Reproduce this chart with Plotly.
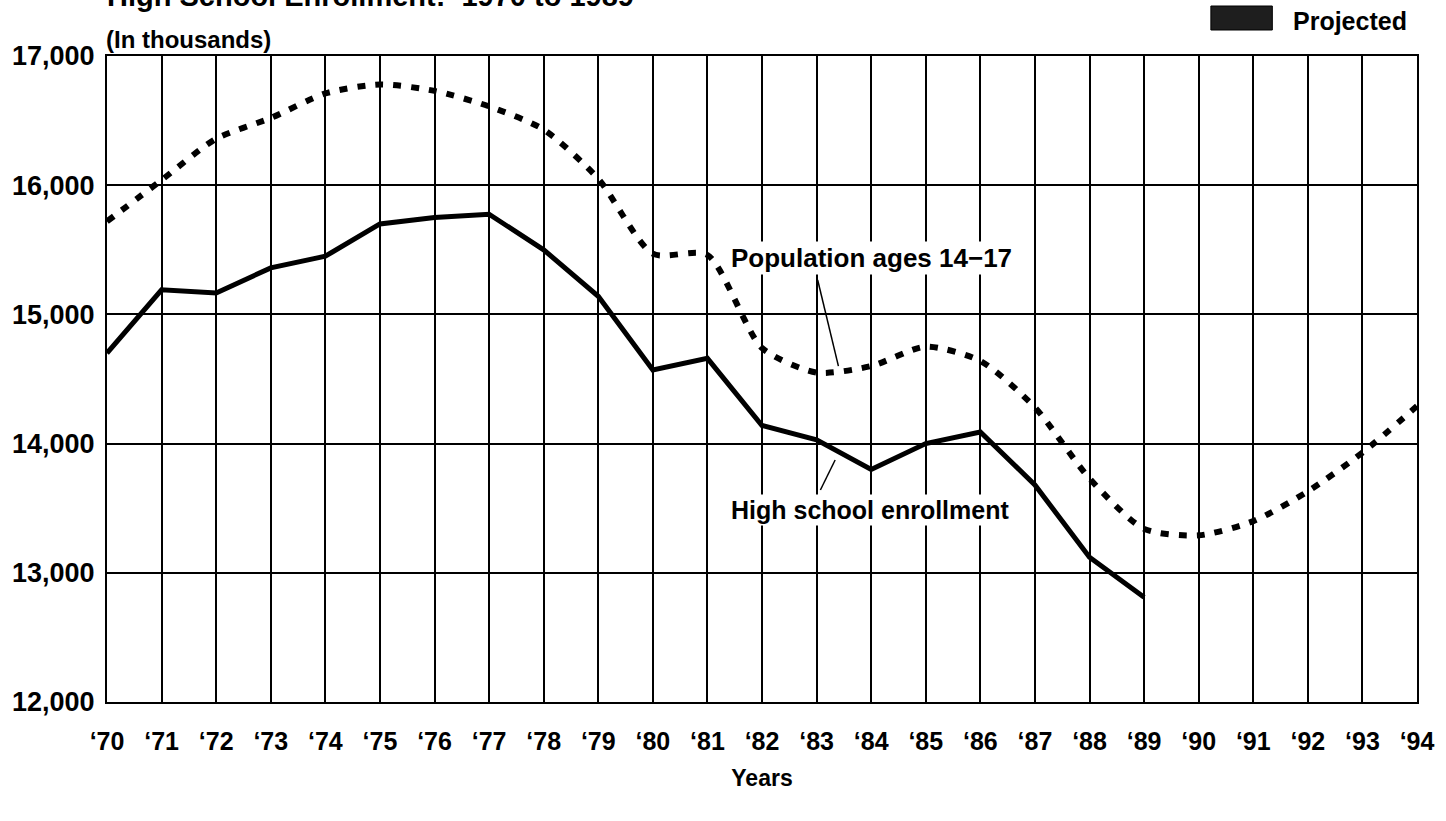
import plotly.graph_objects as go

years = list(range(1970, 1995))
tick_labels = ["\u2018" + str(y)[2:] for y in years]

enroll_years = list(range(1970, 1990))
enrollment = [14700, 15190, 15165, 15360, 15450, 15700, 15750, 15775, 15500, 15140,
              14570, 14660, 14140, 14030, 13800, 14000, 14090, 13680, 13120, 12810]

population = [15720, 16040, 16360, 16520, 16710, 16780, 16730, 16610, 16430, 16050,
              15470, 15460, 14740, 14550, 14600, 14750, 14640, 14280, 13730, 13340,
              13290, 13400, 13630, 13930, 14290]

FONT = "Arial, 'Liberation Sans', Helvetica, sans-serif"

fig = go.Figure()
fig.add_trace(go.Scatter(
    x=years, y=population, mode="lines",
    line=dict(color="black", width=6, dash="8px,10px", shape="spline", smoothing=0.7),
    hoverinfo="skip", showlegend=False))
fig.add_trace(go.Scatter(
    x=enroll_years, y=enrollment, mode="lines",
    line=dict(color="black", width=5),
    hoverinfo="skip", showlegend=False))

fig.update_layout(
    width=1446, height=821,
    margin=dict(l=95, r=29, t=56, b=119),
    paper_bgcolor="white", plot_bgcolor="white",
    font=dict(family=FONT, color="black", size=24, weight="bold"),
    xaxis=dict(range=[1970, 1994], tickvals=years, ticktext=tick_labels,
               showgrid=True, gridcolor="black", gridwidth=2,
               showline=True, linecolor="black", linewidth=2, mirror=True,
               ticks="", ticklabelstandoff=16, zeroline=False,
               tickfont=dict(size=25, family=FONT, weight="bold"),
               title=dict(text="Years", standoff=16,
                          font=dict(size=23, family=FONT, weight="bold"))),
    yaxis=dict(range=[12000, 17000], dtick=1000, tickformat=",",
               showgrid=True, gridcolor="black", gridwidth=2,
               showline=True, linecolor="black", linewidth=2, mirror=True,
               ticks="", ticklabelstandoff=5, zeroline=False,
               tickfont=dict(size=27, family=FONT, weight="bold")),
)

def px_x(px):
    return (px - 95) / 1322

def px_y(py):
    return (702 - py) / 646

# Title (cropped at the top of the page) and subtitle
fig.add_annotation(text="High School Enrollment:  1970 to 1989", xref="paper", yref="paper",
                   x=px_x(93), y=px_y(14), xanchor="left", yanchor="bottom", showarrow=False,
                   font=dict(size=29, family=FONT, weight="bold"))
fig.add_annotation(text="(In thousands)", xref="paper", yref="paper",
                   x=px_x(92), y=px_y(40), xanchor="left", yanchor="middle", showarrow=False,
                   font=dict(size=24, family=FONT, weight="bold"))

# Legend: Projected
fig.add_shape(type="rect", xref="paper", yref="paper",
              x0=px_x(1209), x1=px_x(1271), y0=px_y(30), y1=px_y(6),
              fillcolor="#1e1e1e", line=dict(color="black", width=1))
fig.add_annotation(text="Projected", xref="paper", yref="paper",
                   x=px_x(1290), y=px_y(21), xanchor="left", yanchor="middle", showarrow=False,
                   font=dict(size=25, family=FONT, weight="bold"))

# Series labels with leader lines
fig.add_annotation(text="Population ages 14\u221217", x=1984.0, y=15440,
                   showarrow=False, bgcolor="white",
                   font=dict(size=26, family=FONT, weight="bold"))
fig.add_shape(type="line", x0=1983.02, y0=15266, x1=1983.40, y1=14600,
              line=dict(color="black", width=1.5))
fig.add_annotation(text="High school enrollment", x=1983.98, y=13486,
                   showarrow=False, bgcolor="white",
                   font=dict(size=25, family=FONT, weight="bold"))
fig.add_shape(type="line", x0=1983.07, y0=13641, x1=1983.34, y1=13873,
              line=dict(color="black", width=1.5))

fig.write_html("out.html", config={"displayModeBar": False},
               post_script="document.body.style.margin='0px';")
